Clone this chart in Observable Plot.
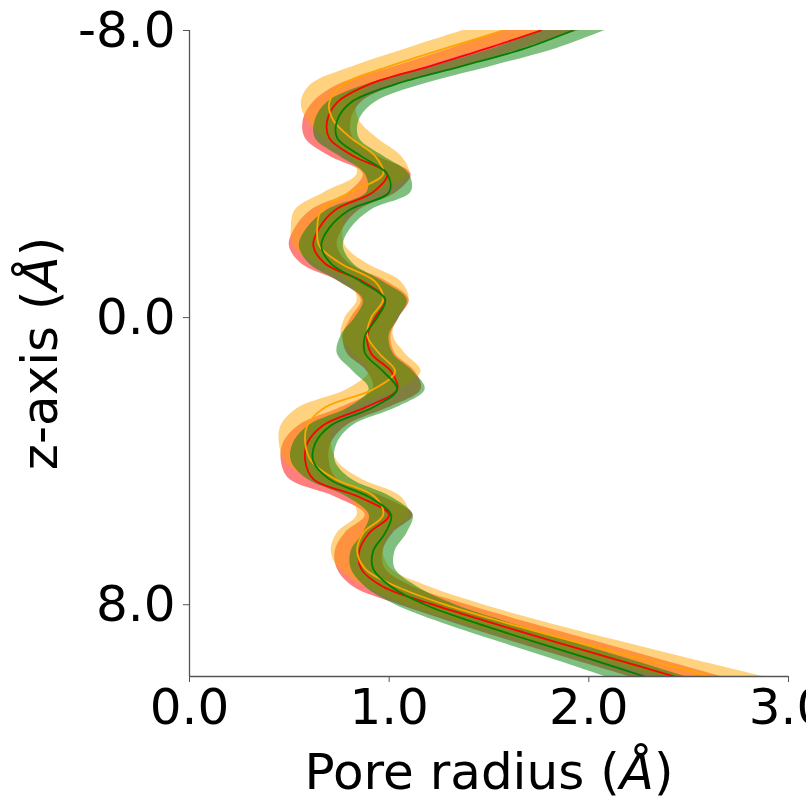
<!DOCTYPE html>
<html>
<head>
<meta charset="utf-8">
<script src="https://cdn.jsdelivr.net/npm/d3@7"></script>
<script src="https://cdn.jsdelivr.net/npm/@observablehq/plot@0.6"></script>
<style>
  html, body { margin: 0; padding: 0; background: #fff; }
  #chart { width: 806px; height: 796px; }
  svg { font-family: "DejaVu Sans", sans-serif; }
</style>
</head>
<body>
<div id="chart"></div>
<script>
// z positions along the pore axis (Å)
const zAxis = [-8, -7.5, -7, -6.5, -6, -5.5, -5, -4.5, -4, -3.5, -3, -2.5, -2, -1.5, -1, -0.5,
  0, 0.5, 1, 1.5, 2, 2.5, 3, 3.5, 4, 4.5, 5, 5.5, 6, 6.5, 7, 7.5, 8, 8.5, 9, 9.5, 10];

// mean pore radius (Å) per series
const redRadius = [1.76, 1.49, 1.20, 0.90, 0.74, 0.69, 0.70, 0.82, 0.99, 0.92, 0.73, 0.65, 0.62, 0.68, 0.87, 0.98,
  0.93, 0.89, 0.91, 1.01, 1.04, 0.88, 0.67, 0.59, 0.58, 0.62, 0.85, 1.00, 0.90, 0.85, 0.86, 0.97, 1.22, 1.51, 1.81, 2.12, 2.43];
const orangeRadius = [1.57, 1.28, 1.00, 0.77, 0.70, 0.72, 0.81, 0.93, 0.97, 0.81, 0.66, 0.64, 0.65, 0.76, 0.93, 0.97,
  0.91, 0.89, 0.95, 1.03, 0.92, 0.68, 0.59, 0.58, 0.61, 0.73, 0.93, 0.97, 0.87, 0.84, 0.88, 1.04, 1.28, 1.58, 1.91, 2.26, 2.62];
const greenRadius = [1.92, 1.68, 1.36, 1.03, 0.81, 0.74, 0.74, 0.86, 0.99, 1.00, 0.80, 0.70, 0.66, 0.71, 0.86, 0.98,
  0.94, 0.88, 0.88, 0.97, 1.04, 0.92, 0.71, 0.63, 0.62, 0.70, 0.90, 1.01, 0.98, 0.92, 0.92, 1.01, 1.18, 1.43, 1.71, 2.00, 2.28];

// standard deviation of the radius (Å) per series
const redSd = [0.19, 0.18, 0.17, 0.15, 0.12, 0.12, 0.12, 0.12, 0.12, 0.12, 0.12, 0.12, 0.12, 0.12, 0.12, 0.12,
  0.12, 0.12, 0.12, 0.12, 0.12, 0.12, 0.12, 0.12, 0.12, 0.12, 0.12, 0.12, 0.12, 0.12, 0.12, 0.15, 0.17, 0.19, 0.21, 0.22, 0.23];
const orangeSd = [0.20, 0.19, 0.18, 0.16, 0.14, 0.13, 0.13, 0.13, 0.13, 0.13, 0.13, 0.13, 0.13, 0.13, 0.13, 0.13,
  0.13, 0.13, 0.13, 0.13, 0.13, 0.13, 0.13, 0.13, 0.13, 0.13, 0.13, 0.13, 0.13, 0.13, 0.13, 0.16, 0.19, 0.21, 0.23, 0.24, 0.25];
const greenSd = [0.16, 0.16, 0.15, 0.14, 0.12, 0.11, 0.11, 0.11, 0.11, 0.11, 0.11, 0.11, 0.11, 0.11, 0.11, 0.11,
  0.11, 0.12, 0.14, 0.15, 0.14, 0.12, 0.11, 0.11, 0.11, 0.11, 0.11, 0.11, 0.11, 0.11, 0.11, 0.13, 0.15, 0.17, 0.18, 0.19, 0.20];

const xTicks = [0, 1, 2, 3];
const yTicks = [-8, 0, 8];

const series = [
  {name: "red", color: "#ff0000", r: redRadius, sd: redSd},
  {name: "orange", color: "#ffa500", r: orangeRadius, sd: orangeSd},
  {name: "green", color: "#008000", r: greenRadius, sd: greenSd}
];

const rows = series.flatMap(s => zAxis.map((z, i) => ({
  series: s.name, z, r: s.r[i], lo: s.r[i] - s.sd[i], hi: s.r[i] + s.sd[i]
})));

const curve = "catmull-rom";
const marks = [];
for (const s of series) {
  marks.push(Plot.areaX(rows.filter(d => d.series === s.name), {
    y: "z", x1: "lo", x2: "hi", fill: s.color, fillOpacity: 0.5, curve, clip: true
  }));
}
for (const s of series) {
  marks.push(Plot.line(rows.filter(d => d.series === s.name), {
    x: "r", y: "z", stroke: s.color, strokeWidth: 1.8, curve, clip: true
  }));
}

const chart = Plot.plot({
  width: 806,
  height: 796,
  marginLeft: 189,
  marginRight: 18,
  marginTop: 30,
  marginBottom: 120,
  style: {fontFamily: "'DejaVu Sans', sans-serif", background: "#fff", color: "#000"},
  x: {domain: [0, 3]},
  y: {domain: [-8, 10], reverse: true},
  marks: [
    ...marks,
    Plot.ruleX([0], {stroke: "#555", strokeWidth: 1.3}),
    Plot.ruleY([10], {stroke: "#555", strokeWidth: 1.3}),
    Plot.axisX(xTicks, {
      tickFormat: d => d.toFixed(1), tickSize: 6, tickPadding: 6, fontSize: 50,
      stroke: "#555", label: "Pore radius (Å)", labelAnchor: "center", labelOffset: 112, labelArrow: "none"
    }),
    Plot.axisY(yTicks, {
      tickFormat: d => d.toFixed(1), tickSize: 6, tickPadding: 8, fontSize: 50,
      stroke: "#555", label: "z-axis (Å)", labelAnchor: "center", labelOffset: 168, labelArrow: "none"
    })
  ]
});

// italicise the Å symbol in axis labels (mathtext style)
d3.select(chart).selectAll("text").each(function() {
  const t = d3.select(this);
  const txt = this.textContent;
  if (txt.includes("Å") && this.childElementCount === 0) {
    const [a, b] = txt.split("Å");
    t.text(null);
    t.append("tspan").text(a);
    t.append("tspan").attr("font-style", "italic").text("Å");
    t.append("tspan").text(b);
  }
});

document.getElementById("chart").appendChild(chart);
</script>
</body>
</html>
